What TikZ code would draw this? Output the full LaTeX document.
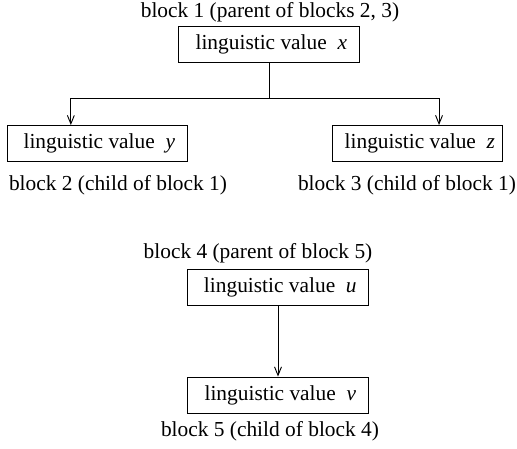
\documentclass[tikz,border=0pt]{standalone}
\usepackage{fontspec}
\setmainfont{Liberation Serif}
\usetikzlibrary{positioning,arrows.meta}

\begin{document}
\begin{tikzpicture}[x=0.65pt, y=-0.65pt, line width=0.6pt,
        every node/.style={font=\fontsize{13.9}{16}\selectfont, align=center},
        valbox/.style={draw, minimum height=23.4pt},
        >={Straight Barb[length=5.5pt,width=4.5pt]}]
        \useasboundingbox (0,0) rectangle (517,448);

        \node[valbox, minimum width=118pt] (B1) at (269,44) {\hspace{3pt}linguistic value~~\textit{x}};
        \node[valbox, minimum width=117pt] (B2) at (97,143.5) {\hspace{3pt}linguistic value~~\textit{y}};
        \node[valbox, minimum width=111pt] (B3) at (417.5,143.5) {\hspace{3pt}linguistic value~~\textit{z}};
        \node[valbox, minimum width=118pt] (B4) at (278,287.5) {\hspace{3pt}linguistic value~~\textit{u}};
        \node[valbox, minimum width=118pt] (B5) at (278,395) {\hspace{3pt}linguistic value~~\textit{v}};

        \node (T1) at (270,12) {block 1 (parent of blocks 2, 3)};
        \node (T2) at (118,185) {block 2 (child of block 1)};
        \node (T3) at (407,185) {block 3 (child of block 1)};
        \node (T4) at (258,253) {block 4 (parent of block 5)};
        \node (T5) at (270,431) {block 5 (child of block 4)};

        \coordinate (fork) at (269,98);
        \draw (B1.south) -- (fork);
        \draw[->] (fork) -| ([xshift=-17pt]B2.north);
        \draw[->] (fork) -| ([xshift=14pt]B3.north);
        \draw[->] (B4.south) -- (B5.north);
    \end{tikzpicture}
\end{document}
